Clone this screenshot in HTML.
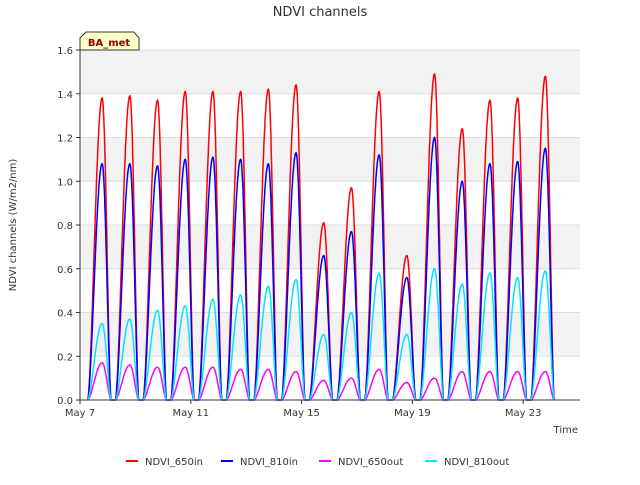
<!DOCTYPE html>
<html><head><meta charset="utf-8"><style>
body{margin:0;background:#fff;font-family:"Liberation Sans","DejaVu Sans",sans-serif}
svg text{font-family:"DejaVu Sans","Liberation Sans",sans-serif}
</style></head><body>
<svg id="c" width="640" height="480" xmlns="http://www.w3.org/2000/svg">
<rect width="640" height="480" fill="#fff"/>
<text x="320" y="16" text-anchor="middle" font-size="13" fill="#333">NDVI channels</text>
<g id="bands"></g>
<g id="grid"></g>
<g id="series"></g>
<g id="axes"></g>
<text x="16" y="225" transform="rotate(-90 16 225)" text-anchor="middle" font-size="10" fill="#333">NDVI channels (W/m2/nm)</text>
<text x="578" y="433" text-anchor="end" font-size="10" fill="#333">Time</text>
<g>
<path d="M80,50 L80,38 L86,32 L134,32 L139,38 L139,50 Z" fill="#ffffcc" stroke="#333"/>
<text x="109" y="46" text-anchor="middle" font-size="10" font-weight="bold" fill="#8b0000">BA_met</text>
</g>
<g id="legend"></g>
</svg>
<script>
const dayLabels=["May 7","May 11","May 15","May 19","May 23"];
const dayLabelOffsets=[0,4,8,12,16];
const yTicks=[0,0.2,0.4,0.6,0.8,1.0,1.2,1.4,1.6];
const seriesNames=["NDVI_650in","NDVI_810in","NDVI_650out","NDVI_810out"];
const seriesColors=["#ff0000","#0000ff","#ff00ff","#00e5ff"];
const peak650in=[1.38,1.39,1.37,1.41,1.41,1.41,1.42,1.44,0.81,0.97,1.41,0.66,1.49,1.24,1.37,1.38,1.48];
const peak810in=[1.08,1.08,1.07,1.10,1.11,1.10,1.08,1.13,0.66,0.77,1.12,0.56,1.20,1.00,1.08,1.09,1.15];
const peak650out=[0.17,0.16,0.15,0.15,0.15,0.14,0.14,0.13,0.09,0.10,0.14,0.08,0.10,0.13,0.13,0.13,0.13];
const peak810out=[0.35,0.37,0.41,0.43,0.46,0.48,0.52,0.55,0.30,0.40,0.58,0.30,0.60,0.53,0.58,0.56,0.59];
const peaks=[peak650in,peak810in,peak650out,peak810out];
const NS="http://www.w3.org/2000/svg";
const X0=80,X1=580,Y0=400,Y1=50,DAYS=18.05;
const xs=d=>X0+d*(X1-X0)/DAYS;
const ys=v=>Y0-v*(Y0-Y1)/1.6;
function mk(t,a,p){const e=document.createElementNS(NS,t);for(const k in a)e.setAttribute(k,a[k]);p.appendChild(e);return e;}
const bands=document.getElementById('bands');
for(let i=0;i<8;i++){
 const r=mk('rect',{x:X0,y:ys(yTicks[i+1]),width:X1-X0,height:ys(yTicks[i])-ys(yTicks[i+1]),fill:i%2?'#f2f2f2':'#ffffff'},bands);
 
 
}
const grid=document.getElementById('grid'),axes=document.getElementById('axes');
yTicks.forEach(v=>{
 mk('line',{x1:X0,x2:X1,y1:ys(v),y2:ys(v),stroke:'#dddddd'},grid);
 mk('line',{x1:X0-4,x2:X0,y1:ys(v),y2:ys(v),stroke:'#333'},axes);
 const t=mk('text',{x:X0-7,y:ys(v)+4,'text-anchor':'end','font-size':10,fill:'#333'},axes);
 t.textContent=v.toFixed(1);
 
 
});
mk('line',{x1:X0,x2:X0,y1:Y1,y2:Y0,stroke:'#333'},axes);
mk('line',{x1:X0,x2:X1,y1:Y0,y2:Y0,stroke:'#333'},axes);
dayLabels.forEach((l,i)=>{
 const x=xs(dayLabelOffsets[i]);
 mk('line',{x1:x,x2:x,y1:Y0,y2:Y0+4,stroke:'#333'},axes);
 const t=mk('text',{x:x,y:Y0+16,'text-anchor':'middle','font-size':10,fill:'#333'},axes);
 t.textContent=l;
 
 
});
const sg=document.getElementById('series');
peaks.forEach((arr,s)=>{
 let d='';
 arr.forEach((p,i)=>{
  const start=i+0.28,pk=i+0.8,end=i+1.12;
  for(let t=start;t<=end+1e-9;t+=0.01){
   let f=t<pk?Math.sin((t-start)/(pk-start)*Math.PI/2):Math.cos((t-pk)/(end-pk)*Math.PI/2);
   f=Math.max(0,f);f=Math.pow(f,1.6);
   d+=(d?'L':'M')+xs(t).toFixed(1)+','+ys(p*f).toFixed(1);
  }
 });
 const path=mk('path',{d:d,fill:'none',stroke:seriesColors[s],'stroke-width':1.5},sg);
 
 
});
const lg=document.getElementById('legend');
const lx=[126,221,319,425];
seriesNames.forEach((n,i)=>{
 const g=mk('g',{},lg);
 
 
 mk('line',{x1:lx[i],x2:lx[i]+12,y1:461,y2:461,stroke:seriesColors[i],'stroke-width':2},g);
 const t=mk('text',{x:lx[i]+19,y:465,'font-size':10,fill:'#333'},g);
 t.textContent=n;
});
</script>
</body></html>
